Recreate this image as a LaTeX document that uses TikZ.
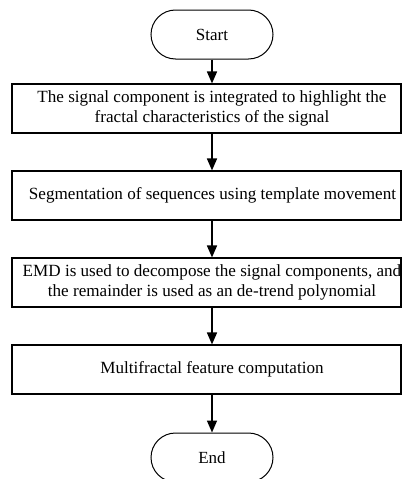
\documentclass[tikz,border=0pt]{standalone}
\usepackage{fontspec}
\setmainfont{Liberation Serif}
\usetikzlibrary{arrows.meta,shapes.misc}
\begin{document}
\begin{tikzpicture}[x=1pt,y=-1pt,
  term/.style={draw, line width=1pt, rounded rectangle, minimum width=122pt, minimum height=49pt, inner sep=0pt, font=\fontsize{17}{20.8}\selectfont},
  procbox/.style={draw, line width=1.1pt, rectangle, minimum width=389pt, minimum height=49pt, inner sep=0pt},
  txt/.style={inner sep=0pt, align=center, font=\fontsize{17.1}{20.8}\selectfont},
  arr/.style={line width=1.6pt, -{Triangle[width=10pt,length=12pt]}}]
\useasboundingbox (0,0) rectangle (402,479);
\clip (0,0) rectangle (402,479);
\node[term] (start) at (212,34.5) {Start};
\node[procbox] (b1) at (206.5,108.5) {};
\node[txt] (t1) at (212,108.5) {The signal component is integrated to highlight the\\fractal characteristics of the signal};
\node[procbox] (b2) at (206.5,195.5) {};
\node[txt] (t2) at (212.5,195.5) {Segmentation of sequences using template movement};
\node[procbox] (b3) at (206.5,282.5) {};
\node[txt] (t3) at (212,282.5) {EMD is used to decompose the signal components, and\\the remainder is used as an de-trend polynomial};
\node[procbox] (b4) at (206.5,369.5) {};
\node[txt] (t4) at (212,369.5) {Multifractal feature computation};
\node[term] (end) at (212,457.5) {End};
\draw[arr] (start.south) -- (start.south |- b1.north);
\draw[arr] (start.south |- b1.south) -- (start.south |- b2.north);
\draw[arr] (start.south |- b2.south) -- (start.south |- b3.north);
\draw[arr] (start.south |- b3.south) -- (start.south |- b4.north);
\draw[arr] (start.south |- b4.south) -- (end.north);
\end{tikzpicture}
\end{document}
